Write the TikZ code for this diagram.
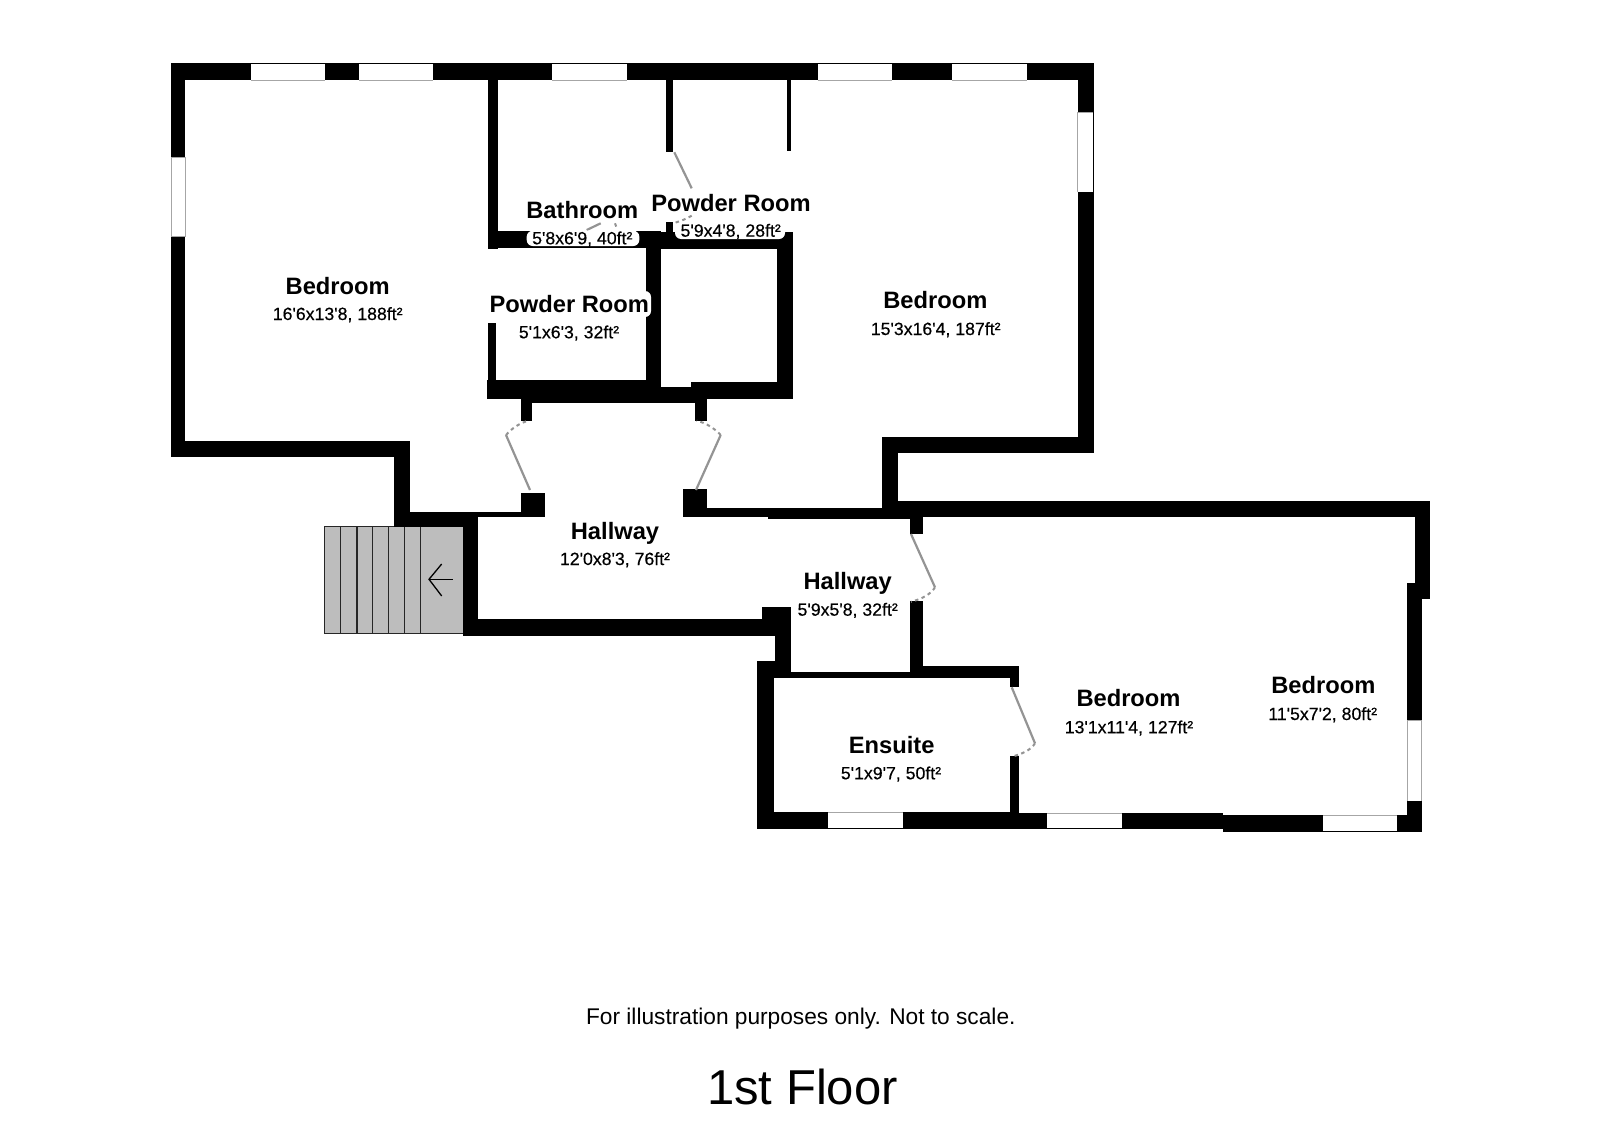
\documentclass[tikz,border=0pt]{standalone}
\usepackage{fontspec}
\setmainfont{Liberation Sans}
\newfontfamily\smallfam[FakeBold=0.35]{Liberation Sans}
\newcommand{\roomfont}{\fontsize{23.7}{26}\selectfont\bfseries}
\newcommand{\dimfont}{\fontsize{17.7}{20}\smallfam}
\definecolor{doorgrey}{gray}{0.58}
\definecolor{stairgrey}{gray}{0.74}
\tikzset{
  wall/.style={fill=black},
  pane/.style={fill=white},
  paneedge/.style={draw=gray!70,line width=0.7pt},
  doorleaf/.style={draw=doorgrey,line width=2.2pt},
  doorswing/.style={draw=doorgrey,line width=2pt,dash pattern=on 3.5pt off 3.5pt},
  room/.style={anchor=base,inner sep=0pt,font=\roomfont},
  dim/.style={anchor=base,inner sep=0pt,font=\dimfont},
  tread/.style={draw=black!85,line width=1.5pt},
}
\begin{document}
\begin{tikzpicture}[x=1pt,y=-1pt]
\useasboundingbox (0,0) rectangle (1600,1132);
\fill[white] (0,0) rectangle (1600,1132);
% stairs
\fill[stairgrey] (324.3,526.7) rectangle (462.7,633.7);
\draw[tread] (462.7,633.7) -- (324.3,633.7) -- (324.3,526.7) -- (462.7,526.7);
\foreach \tx in {340.7,357,372.7,388.7,404.7,420.3}{\draw[tread] (\tx,526.7) -- (\tx,633.7);}
\draw[line width=1.3pt] (452.7,579.3) -- (429,579.3);
\draw[line width=1.3pt] (441.7,564) -- (429,579.3) -- (441.7,596);
% upper walls
\fill[wall] (170.7,63.3) rectangle (1094.3,80);
\fill[wall] (657.3,62.7) rectangle (803.3,80);
\fill[wall] (170.7,63.3) rectangle (185.3,456.7);
\fill[wall] (170.7,440.7) rectangle (410,456.7);
\fill[wall] (394,440.7) rectangle (410,527);
\fill[wall] (394,511.7) rectangle (478.3,527);
\fill[wall] (410,511.7) rectangle (545.3,517);
\fill[wall] (521,492.7) rectangle (545.3,517);
\fill[wall] (462.7,511.7) rectangle (478.3,636);
\fill[wall] (462.7,619) rectangle (775,636);
\fill[wall] (761.7,607.3) rectangle (790.7,625);
\fill[wall] (775,607.3) rectangle (790.7,678.3);
% bathroom, powder rooms, closet
\fill[wall] (488,63.3) rectangle (498.3,249);
\fill[wall] (488,231) rectangle (661,248.3);
\fill[wall] (645.7,231.7) rectangle (792.7,249.3);
\fill[wall] (666.3,63) rectangle (673,152.3);
\fill[wall] (787,63) rectangle (791,150.7);
\fill[wall] (666.3,221.7) rectangle (673,240);
\fill[wall] (776.7,233.7) rectangle (792.7,399);
\fill[wall] (645.7,231) rectangle (661,399);
\fill[wall] (488,323.3) rectangle (496,399.3);
\fill[wall] (487.3,380) rectangle (661,399.3);
\fill[wall] (521,387.3) rectangle (695,403.3);
\fill[wall] (661,387.3) rectangle (691,403.3);
\fill[wall] (691,381.7) rectangle (792.7,399);
\fill[wall] (521.3,399) rectangle (531.7,420.7);
\fill[wall] (695,399) rectangle (707.3,420.7);
\fill[wall] (683.3,489.3) rectangle (707.3,516.7);
% right bedroom
\fill[wall] (1077.7,63.3) rectangle (1094.3,453.3);
\fill[wall] (881.7,437.3) rectangle (1094.3,453.3);
\fill[wall] (881.7,437.3) rectangle (897.7,518.3);
\fill[wall] (683.3,508.3) rectangle (910,516.7);
\fill[wall] (768.3,508.3) rectangle (923.3,519);
% lower wing
\fill[wall] (897.7,501) rectangle (1430,517.3);
\fill[wall] (910,501) rectangle (923.3,534);
\fill[wall] (910,600.7) rectangle (923.3,678.3);
\fill[wall] (1415,501) rectangle (1430,599);
\fill[wall] (1407.3,583.3) rectangle (1422.3,720.7);
\fill[wall] (1407.3,800.7) rectangle (1422.3,831.7);
\fill[wall] (1396.7,815) rectangle (1422.3,831.7);
% ensuite
\fill[wall] (757.3,661) rectangle (790.7,678.3);
\fill[wall] (790.7,671.7) rectangle (1019,678.3);
\fill[wall] (910,666) rectangle (1019,678.3);
\fill[wall] (1010,666) rectangle (1019,687.3);
\fill[wall] (757.3,661) rectangle (774,829);
\fill[wall] (757.3,811.7) rectangle (1019,829);
\fill[wall] (1010,756) rectangle (1019,829);
\fill[wall] (1019,813.3) rectangle (1223.3,829);
\fill[wall] (1223.3,815) rectangle (1396.7,831.7);
% windows
\foreach \xa/\xb in {251/325,359.3/433.3,552.3/626.7,817.7/892,952.3/1026.7}{
  \fill[pane] (\xa,64.5) rectangle (\xb,80);
  \draw[paneedge] (\xa,80) -- (\xb,80);
}
\fill[pane] (171,157.3) rectangle (185.3,236);
\draw[paneedge] (171,157.3) rectangle (185.3,236);
\fill[pane] (1077.7,112.3) rectangle (1093,192);
\draw[paneedge] (1077.7,192) -- (1077.7,112.3) -- (1093,112.3);
\fill[pane] (1407.3,720.7) rectangle (1421.7,800.7);
\draw[paneedge] (1407.3,800.7) -- (1407.3,720.7) -- (1421.7,720.7) -- (1421.7,800.7);
\fill[pane] (828.3,812.2) rectangle (902.7,828);
\draw[paneedge] (828.3,812) -- (902.7,812);
\fill[pane] (1047.3,813.6) rectangle (1121.7,828);
\draw[paneedge] (1047.3,813.3) -- (1121.7,813.3);
\fill[pane] (1323.3,815.3) rectangle (1396.7,830.5);
\draw[paneedge] (1323.3,815) -- (1396.7,815);
% doors
\draw[doorleaf] (530,490) -- (506,435);
\draw[doorswing] (506,435) .. controls (512,428) and (520,423) .. (528.3,420.7);
\draw[doorleaf] (696,490) -- (720.7,435);
\draw[doorswing] (720.7,435) .. controls (714,428) and (706,423) .. (696.7,420.7);
\draw[doorleaf] (911,534) -- (935,587.3);
\draw[doorswing] (935,587.3) .. controls (931,594) and (922,599) .. (911,601.7);
\draw[doorleaf] (1011.7,687.3) -- (1035,743.3);
\draw[doorswing] (1035,743.3) .. controls (1031,750) and (1022,754) .. (1011.7,756.7);
\draw[doorleaf] (674.3,152.3) -- (691.7,188.3);
\draw[doorswing] (691.7,215.7) .. controls (686,219) and (681,221) .. (675,222.7);
\draw[doorleaf] (586.7,230) -- (600.7,223.3);
\draw[doorswing] (615,223.3) -- (616.7,228);
% label backgrounds
\fill[white,rounded corners=6pt] (526.7,230.7) rectangle (639.3,246);
\fill[white,rounded corners=6pt] (675,224) rectangle (785,239);
\fill[white] (680,221.7) rectangle (785,232);
\fill[white,rounded corners=6pt] (491,291) rectangle (651,317);
\fill[white] (488,291) rectangle (496,323.3);
% labels
\node[room] (bed1) at (337.7,294.3) {Bedroom};
\node[dim] (bed1d) at (337.7,320) {16'6x13'8, 188ft²};
\node[room] (bath) at (582.3,218.3) {Bathroom};
\node[dim] (bathd) at (582.3,244.3) {5'8x6'9, 40ft²};
\node[room] (pow1) at (569.3,312.7) {Powder Room};
\node[dim] (pow1d) at (569,338.3) {5'1x6'3, 32ft²};
\node[room] (pow2) at (731,211) {Powder Room};
\node[dim] (pow2d) at (730.7,236.7) {5'9x4'8, 28ft²};
\node[room] (bed2) at (935.3,308.7) {Bedroom};
\node[dim] (bed2d) at (935.7,335) {15'3x16'4, 187ft²};
\node[room] (hall1) at (615,539) {Hallway};
\node[dim] (hall1d) at (615,565) {12'0x8'3, 76ft²};
\node[room] (hall2) at (847.7,589.3) {Hallway};
\node[dim] (hall2d) at (847.7,615.7) {5'9x5'8, 32ft²};
\node[room] (ens) at (891.7,753.3) {Ensuite};
\node[dim] (ensd) at (891,779.3) {5'1x9'7, 50ft²};
\node[room] (bed3) at (1128.5,706.7) {Bedroom};
\node[dim] (bed3d) at (1129,733.3) {13'1x11'4, 127ft²};
\node[room] (bed4) at (1323.3,693.3) {Bedroom};
\node[dim] (bed4d) at (1322.7,720) {11'5x7'2, 80ft²};
\node[anchor=base,inner sep=0pt,font=\fontsize{22.7}{25}\selectfont] (note) at (800.8,1024) {For illustration purposes only. Not to scale.};
\node[anchor=base,inner sep=0pt,font=\fontsize{49}{52}\selectfont] (title) at (802.5,1104) {1st Floor};
\end{tikzpicture}
\end{document}
